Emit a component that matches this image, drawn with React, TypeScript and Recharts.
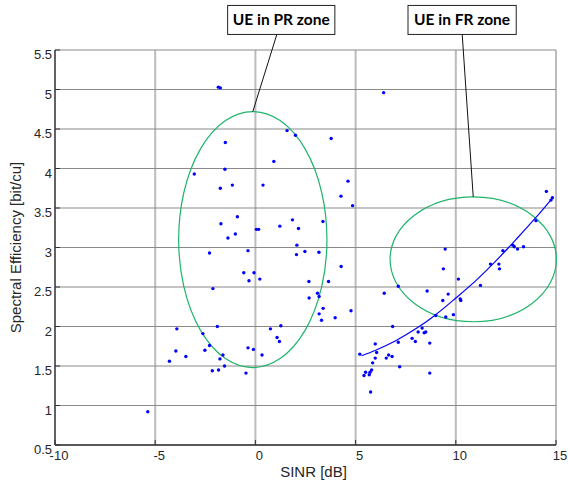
import {
  ComposedChart,
  Scatter,
  Line,
  XAxis,
  YAxis,
  CartesianGrid,
  ReferenceArea,
  ReferenceLine,
  Label,
} from "recharts"

const xTicks = [-10, -5, 0, 5, 10, 15]
const yTicks = [0.5, 1, 1.5, 2, 2.5, 3, 3.5, 4, 4.5, 5, 5.5]

// [SINR dB, spectral efficiency bit/cu]
const lowSinrUes = [
  [-1.85, 5.03], [-1.75, 5.02], [1.58, 4.48], [2.0, 4.42], [-1.5, 4.33], [0.92, 4.09],
  [-3.05, 3.93], [-1.52, 3.99], [-1.15, 3.79], [-1.75, 3.75], [0.38, 3.79], [-0.9, 3.39],
  [-1.72, 3.3], [1.85, 3.35], [1.22, 3.27], [2.15, 3.24], [0.05, 3.23], [0.16, 3.23],
  [-1.0, 3.17], [-1.37, 3.12], [-2.29, 2.93], [-0.37, 2.96], [2.07, 3.03], [2.05, 2.91],
  [2.47, 2.95], [3.17, 2.94], [-0.58, 2.68], [-0.07, 2.68], [-0.32, 2.58], [0.22, 2.6],
  [2.67, 2.57], [-2.12, 2.48], [3.1, 2.42], [3.18, 2.38], [2.68, 2.36], [3.18, 2.16],
  [-3.92, 1.97], [-1.9, 2.0], [-2.62, 1.91], [0.75, 1.97], [1.27, 2.01], [1.08, 1.86],
  [1.2, 1.81], [-2.29, 1.76], [-2.52, 1.7], [-3.97, 1.69], [-3.47, 1.62], [-4.29, 1.56],
  [-1.62, 1.64], [-1.77, 1.59], [-0.37, 1.73], [-0.1, 1.71], [0.33, 1.64], [-1.54, 1.5],
  [-2.15, 1.44], [-1.84, 1.45], [-0.47, 1.41], [-5.37, 0.92],
]

const midSinrUes = [
  [6.4, 4.96], [3.78, 4.38], [4.62, 3.84], [4.27, 3.65], [4.85, 3.53], [3.37, 3.33],
  [4.28, 2.76], [3.65, 2.57], [3.38, 2.23], [3.3, 2.08], [3.98, 2.11], [4.77, 2.2],
]

const highSinrUes = [
  [14.52, 3.71], [14.82, 3.63], [14.75, 3.6], [14.0, 3.34],
  [5.21, 1.65], [5.42, 1.38], [5.5, 1.42], [5.68, 1.39], [5.72, 1.42], [5.8, 1.45],
  [5.75, 1.17], [5.85, 1.54], [5.98, 1.6], [6.05, 1.67], [5.98, 1.78], [6.43, 2.42],
  [6.53, 1.6], [6.65, 1.64], [6.82, 1.62], [6.85, 2.0], [7.13, 1.8], [7.13, 2.51],
  [7.2, 1.49], [7.82, 1.85], [7.98, 1.81], [8.12, 1.93], [8.32, 1.98], [8.42, 1.92],
  [8.5, 1.93], [8.57, 2.45], [8.7, 1.79], [8.7, 1.41], [9.0, 2.14], [9.35, 2.33],
  [9.38, 2.73], [9.47, 2.98], [9.5, 2.12], [9.62, 2.41], [9.88, 2.15], [10.13, 2.6],
  [10.22, 2.35], [10.25, 2.33], [11.23, 2.52], [11.73, 2.79], [12.15, 2.79], [12.18, 2.73],
  [12.35, 2.96], [12.85, 3.03], [12.92, 3.01], [13.08, 2.98], [13.38, 3.01],
]

// fitted trend for the high-SINR users
const fitSinr = [5.3, 6, 7, 8, 9, 10, 11, 12, 13, 14, 14.8]
const fitEff = [1.63, 1.7, 1.82, 1.97, 2.15, 2.36, 2.58, 2.83, 3.1, 3.38, 3.62]

// zone ellipses (centre / radii in data units) and their callout boxes
const zones = [
  { name: "UE in PR zone", cx: -0.13, cy: 3.1, rx: 3.7, ry: 1.62, boxX: [-1.385, 3.965], leadX: 1.07 },
  { name: "UE in FR zone", cx: 10.87, cy: 2.85, rx: 4.15, ry: 0.79, boxX: [7.615, 13.015], leadX: 10.32 },
]
const boxY = [5.697, 6.064]

const toPoints = (rows: number[][]) => rows.map(([sinr, se]) => ({ sinr, se }))
const scatterData = toPoints([...lowSinrUes, ...midSinrUes, ...highSinrUes])
const fitData = fitSinr.map((sinr, i) => ({ sinr, se: fitEff[i] }))

const FONT = "'Liberation Sans', Arial, sans-serif"
const TEXT = "#262626"

const Dot = (props: any) => <circle cx={props.cx} cy={props.cy} r={1.7} fill="#0000ff" />

const Ellipse = (props: any) => {
  const { x, y, width, height } = props
  return (
    <ellipse
      cx={x + width / 2}
      cy={y + height / 2}
      rx={Math.abs(width) / 2}
      ry={Math.abs(height) / 2}
      fill="none"
      stroke="#1fb46a"
      strokeWidth={1.2}
    />
  )
}

const Box = (props: any) => (
  <rect x={props.x} y={props.y} width={props.width} height={props.height} fill="#fff" stroke="#222" strokeWidth={1} />
)

const XTick = (props: any) => (
  <text x={props.x + 4} y={props.y} fill={TEXT} fontSize={13} fontFamily={FONT} textAnchor="middle">
    {props.payload.value}
  </text>
)

const YTick = (props: any) => (
  <text x={props.x} y={props.y + 9} fill={TEXT} fontSize={13} fontFamily={FONT} textAnchor="end">
    {props.payload.value}
  </text>
)

export default function App() {
  return (
    <div style={{ width: 569, height: 483 }}>
      <style>{"body{margin:0}"}</style>
      <ComposedChart width={569} height={483} margin={{ top: 50, right: 13, bottom: 0, left: 0 }}>
        <CartesianGrid horizontal={false} stroke="#bcbcbc" strokeWidth={2} />
        <CartesianGrid vertical={false} stroke="#8a8a8a" strokeWidth={1.2} />
        <XAxis
          dataKey="sinr"
          type="number"
          domain={[-10, 15]}
          ticks={xTicks}
          height={38}
          tickSize={-5}
          tickMargin={20}
          tick={<XTick />}
          axisLine={{ stroke: "#333", strokeWidth: 1.3 }}
          tickLine={{ stroke: "#333" }}
        >
          <Label value="SINR [dB]" position="insideBottom" offset={6} dx={8} fill={TEXT} fontSize={15} fontFamily={FONT} />
        </XAxis>
        <YAxis
          dataKey="se"
          type="number"
          domain={[0.5, 5.5]}
          ticks={yTicks}
          width={55}
          tickSize={-5}
          tickMargin={8}
          tick={<YTick />}
          axisLine={{ stroke: "#333", strokeWidth: 1.3 }}
          tickLine={{ stroke: "#333" }}
        >
          <Label
            value="Spectral Efficiency [bit/cu]"
            angle={-90}
            position="insideLeft"
            offset={16}
            style={{ textAnchor: "middle" }}
            fill={TEXT}
            fontSize={15}
            fontFamily={FONT}
          />
        </YAxis>
        <XAxis
          xAxisId="top"
          orientation="top"
          type="number"
          domain={[-10, 15]}
          ticks={xTicks}
          height={0}
          tick={false}
          tickSize={-5}
          axisLine={{ stroke: "#333", strokeWidth: 1.3 }}
          tickLine={{ stroke: "#333" }}
        />
        <YAxis
          yAxisId="right"
          orientation="right"
          type="number"
          domain={[0.5, 5.5]}
          ticks={yTicks}
          width={0}
          tick={false}
          tickSize={-5}
          axisLine={{ stroke: "#333", strokeWidth: 1.3 }}
          tickLine={{ stroke: "#333" }}
        />

        {zones.map((z) => (
          <ReferenceArea
            key={z.name + "-ellipse"}
            x1={z.cx - z.rx}
            x2={z.cx + z.rx}
            y1={z.cy - z.ry}
            y2={z.cy + z.ry}
            ifOverflow="visible"
            shape={<Ellipse />}
          />
        ))}

        <Line
          data={fitData}
          dataKey="se"
          type="monotone"
          stroke="#0000ff"
          strokeWidth={1.2}
          dot={false}
          activeDot={false}
          isAnimationActive={false}
        />
        <Scatter data={scatterData} dataKey="se" shape={<Dot />} isAnimationActive={false} />

        {zones.map((z) => (
          <ReferenceLine
            key={z.name + "-lead"}
            segment={[
              { x: z.leadX, y: boxY[0] },
              { x: z.cx, y: z.cy + z.ry },
            ]}
            stroke="#111"
            strokeWidth={1}
            ifOverflow="visible"
          />
        ))}
        {zones.map((z) => (
          <ReferenceArea
            key={z.name + "-box"}
            x1={z.boxX[0]}
            x2={z.boxX[1]}
            y1={boxY[0]}
            y2={boxY[1]}
            ifOverflow="visible"
            shape={<Box />}
          >
            <Label
              value={z.name}
              position="center"
              fill="#000"
              fontSize={15.5}
              fontWeight={700}
              fontFamily="Lato, 'Open Sans', sans-serif"
            />
          </ReferenceArea>
        ))}
      </ComposedChart>
    </div>
  )
}
